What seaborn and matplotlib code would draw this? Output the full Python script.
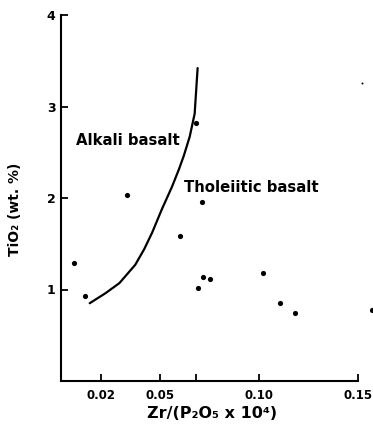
import matplotlib
matplotlib.use("Agg")
import matplotlib.pyplot as plt
import seaborn as sns
import pandas as pd

# Sample data (Zr/(P2O5 x 10^4), TiO2 wt.%)
zr_p2o5 = [0.0065, 0.012, 0.0335, 0.060, 0.068, 0.071, 0.0715, 0.0755, 0.069, 0.102, 0.1105, 0.118, 0.157]
tio2 = [1.29, 0.93, 2.03, 1.58, 2.82, 1.96, 1.14, 1.11, 1.02, 1.18, 0.85, 0.74, 0.78]

# Boundary curve between alkali and tholeiitic basalt
curve_x = [0.0145, 0.0225, 0.0295, 0.0335, 0.0375, 0.042, 0.046, 0.051, 0.056, 0.0595,
           0.062, 0.065, 0.0675, 0.069]
curve_y = [0.85, 0.96, 1.07, 1.17, 1.27, 1.44, 1.62, 1.88, 2.12, 2.31,
           2.46, 2.67, 2.92, 3.42]

# tiny speck in the scan
speck_x = [0.152]
speck_y = [3.26]

x_ticks = [0.02, 0.05, 0.068, 0.10, 0.15]
x_tick_labels = ["0.02", "0.05", "", "0.10", "0.15"]
y_ticks = [1, 2, 3, 4]
y_tick_labels = ["1", "2", "3", "4"]

sns.set_style("white")
plt.rcParams["font.family"] = ["DejaVu Sans"]
plt.rcParams["font.weight"] = "bold"
plt.rcParams["text.color"] = "black"
plt.rcParams["axes.labelcolor"] = "black"
plt.rcParams["xtick.color"] = "black"
plt.rcParams["ytick.color"] = "black"
plt.rcParams["xtick.bottom"] = True
plt.rcParams["ytick.left"] = True

fig = plt.figure(figsize=(3.73, 4.29), dpi=100)
ax = fig.add_axes([61 / 373, 1 - 381 / 429, (358 - 61) / 373, (381 - 15) / 429])

pts = pd.DataFrame({"x": zr_p2o5, "y": tio2})
crv = pd.DataFrame({"x": curve_x, "y": curve_y})

sns.lineplot(data=crv, x="x", y="y", ax=ax, color="black", linewidth=1.6, sort=False,
             estimator=None)
sns.scatterplot(data=pts, x="x", y="y", ax=ax, color="black", s=14, edgecolor="black",
                linewidth=0, clip_on=False)
sns.scatterplot(x=speck_x, y=speck_y, ax=ax, color="black", s=2, linewidth=0, clip_on=False)

ax.set_xlim(0, 0.15)
ax.set_ylim(0, 4)
ax.set_xticks(x_ticks)
ax.set_xticklabels(x_tick_labels, fontsize=8.5, fontweight="bold")
ax.set_yticks(y_ticks)
ax.set_yticklabels(y_tick_labels, fontsize=9, fontweight="bold")
ax.tick_params(axis="both", which="major", direction="in", length=5, width=1.3,
               color="black", bottom=True, left=True, labelcolor="black")
ax.tick_params(axis="x", pad=6)
ax.tick_params(axis="y", pad=4)

for s in ["top", "right"]:
    ax.spines[s].set_visible(False)
for s in ["left", "bottom"]:
    ax.spines[s].set_color("black")
    ax.spines[s].set_linewidth(1.5)

ax.set_xlabel("Zr/(P\u2082O\u2085 x 10\u2074)", fontsize=11.5, fontweight="bold", color="black")
ax.set_ylabel("TiO\u2082 (wt. %)", fontsize=10, fontweight="bold", color="black")
ax.xaxis.set_label_coords(0.51, -0.068)
ax.yaxis.set_label_coords(-0.13, 0.47)

ax.text(0.0075, 2.63, "Alkali basalt", fontsize=10.7, fontweight="bold", va="center",
        ha="left", color="black")
ax.text(0.0622, 2.11, "Tholeiitic basalt", fontsize=10.7, fontweight="bold", va="center",
        ha="left", color="black")

fig.savefig("out.png", dpi=100)
